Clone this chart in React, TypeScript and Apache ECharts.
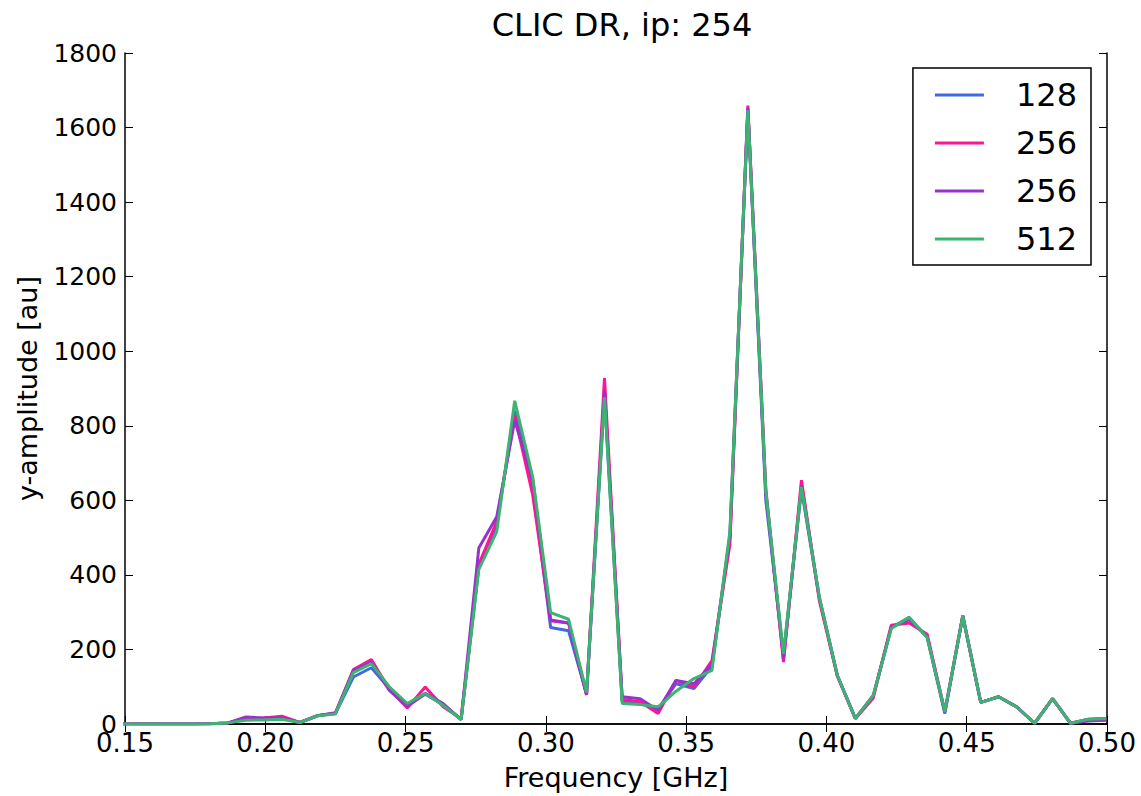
import React, { useEffect, useRef } from "react";
import * as echarts from "echarts";

const freqGHz = [
  0.1484, 0.1547, 0.1611, 0.1675, 0.1739, 0.1803, 0.1867, 0.1931, 0.1995, 0.2059,
  0.2123, 0.2186, 0.2250, 0.2314, 0.2378, 0.2442, 0.2506, 0.2570, 0.2634, 0.2698,
  0.2761, 0.2825, 0.2889, 0.2953, 0.3017, 0.3081, 0.3145, 0.3209, 0.3272, 0.3336,
  0.3400, 0.3464, 0.3528, 0.3592, 0.3656, 0.3720, 0.3784, 0.3847, 0.3911, 0.3975,
  0.4039, 0.4103, 0.4167, 0.4231, 0.4295, 0.4359, 0.4422, 0.4486, 0.4550, 0.4614,
  0.4678, 0.4742, 0.4806, 0.4870, 0.4934, 0.4997,
];

const amp128 = [
  0, 0, 0, 0, 0, 1, 3, 15, 14, 17,
  4, 23, 28, 126, 151, 95, 50, 80, 52, 12,
  420, 535, 840, 640, 259, 250, 80, 880, 59, 55,
  40, 108, 95, 155, 500, 1648, 600, 185, 630, 335,
  130, 15, 75, 258, 286, 232, 28, 290, 58, 73,
  46, 2, 68, 2, 13, 15,
];

const amp256a = [
  0, 0, 0, 0, 0, 1, 3, 14, 16, 21,
  4, 22, 29, 146, 173, 93, 43, 99, 46, 14,
  428, 543, 827, 615, 277, 271, 78, 928, 66, 60,
  28, 117, 99, 170, 482, 1659, 630, 166, 654, 330,
  128, 14, 70, 265, 271, 241, 33, 290, 58, 73,
  46, 2, 68, 2, 12, 14,
];

const amp256b = [
  0, 0, 0, 0, 0, 1, 3, 19, 16, 17,
  4, 22, 30, 144, 166, 90, 47, 82, 55, 12,
  472, 556, 814, 658, 279, 271, 78, 894, 73, 68,
  37, 117, 108, 160, 505, 1652, 620, 175, 640, 339,
  130, 15, 77, 260, 280, 235, 33, 290, 58, 73,
  46, 2, 68, 2, 8, 10,
];

const amp512 = [
  0, 0, 0, 0, 0, 1, 3, 10, 11, 13,
  4, 22, 27, 138, 162, 100, 55, 82, 50, 12,
  415, 516, 867, 663, 299, 281, 85, 876, 55, 52,
  46, 88, 122, 144, 517, 1646, 625, 188, 636, 339,
  130, 15, 77, 256, 286, 232, 33, 290, 58, 73,
  46, 2, 68, 2, 13, 15,
];

const seriesKeys = ["s128", "s256a", "s256b", "s512"];
const seriesLabels = ["128", "256", "256", "512"];
const seriesColors = ["#4169E1", "#FF1493", "#9932CC", "#3CB371"];
const seriesValues = [amp128, amp256a, amp256b, amp512];

const FONT = "DejaVu Sans";

export default function App() {
  const ref = useRef<HTMLDivElement>(null);

  useEffect(() => {
    if (!ref.current) return;
    const chart = echarts.init(ref.current, null, { renderer: "svg" });

    const axisLine = { show: true, lineStyle: { color: "#000", width: 1.5 } };
    const tickStyle = { show: true, inside: true, length: 8, lineStyle: { color: "#000", width: 1 } };

    const series = seriesValues.map((vals, i) => ({
      name: seriesKeys[i],
      type: "line",
      xAxisIndex: 0,
      yAxisIndex: 0,
      data: freqGHz.map((f, k) => [f, vals[k]]),
      symbol: "none",
      showSymbol: false,
      clip: true,
      color: seriesColors[i],
      lineStyle: { color: seriesColors[i], width: 3 },
      z: 2 + i,
    }));

    chart.setOption({
      animation: false,
      backgroundColor: "#fff",
      title: {
        text: "CLIC DR, ip: 254",
        left: 617,
        top: 4,
        textAlign: "center",
        textStyle: { fontFamily: FONT, fontSize: 32, fontWeight: "normal", color: "#000" },
      },
      legend: {
        data: seriesKeys.map((k) => ({ name: k })),
        formatter: (name: string) => seriesLabels[seriesKeys.indexOf(name)],
        orient: "vertical",
        right: 50,
        top: 68,
        icon: "rect",
        borderColor: "#000",
        borderWidth: 1.5,
        borderRadius: 0,
        padding: [11, 14, 10, 22],
        itemWidth: 49,
        itemHeight: 3,
        itemGap: 16,
        textStyle: { fontFamily: FONT, fontSize: 32, color: "#000", padding: [0, 0, 0, 27] },
      },
      grid: { left: 125, right: 34, top: 53, bottom: 67, containLabel: false },
      xAxis: [
        {
          type: "value",
          min: 0.15,
          max: 0.5,
          interval: 0.05,
          name: "Frequency [GHz]",
          nameLocation: "middle",
          nameGap: 40,
          nameTextStyle: { fontFamily: FONT, fontSize: 27, color: "#000" },
          axisLine,
          axisTick: tickStyle,
          splitLine: { show: false },
          axisLabel: {
            fontFamily: FONT,
            fontSize: 26,
            color: "#000",
            margin: 6,
            formatter: (v: number) => v.toFixed(2),
          },
        },
        {
          type: "value",
          position: "top",
          min: 0.15,
          max: 0.5,
          interval: 0.05,
          axisLine,
          axisTick: tickStyle,
          splitLine: { show: false },
          axisLabel: { show: false },
        },
      ],
      yAxis: [
        {
          type: "value",
          min: 0,
          max: 1800,
          interval: 200,
          name: "y-amplitude [au]",
          nameLocation: "middle",
          nameGap: 84,
          nameRotate: 90,
          nameTextStyle: { fontFamily: FONT, fontSize: 27, color: "#000" },
          axisLine,
          axisTick: tickStyle,
          splitLine: { show: false },
          axisLabel: {
            fontFamily: FONT,
            fontSize: 25,
            color: "#000",
            margin: 8,
            formatter: (v: number) => String(v),
          },
        },
        {
          type: "value",
          position: "right",
          min: 0,
          max: 1800,
          interval: 200,
          axisLine,
          axisTick: tickStyle,
          splitLine: { show: false },
          axisLabel: { show: false },
        },
      ],
      series,
    });

    return () => chart.dispose();
  }, []);

  return (
    <div
      ref={ref}
      style={{ position: "absolute", left: 0, top: 0, width: 1141, height: 796 }}
    />
  );
}
